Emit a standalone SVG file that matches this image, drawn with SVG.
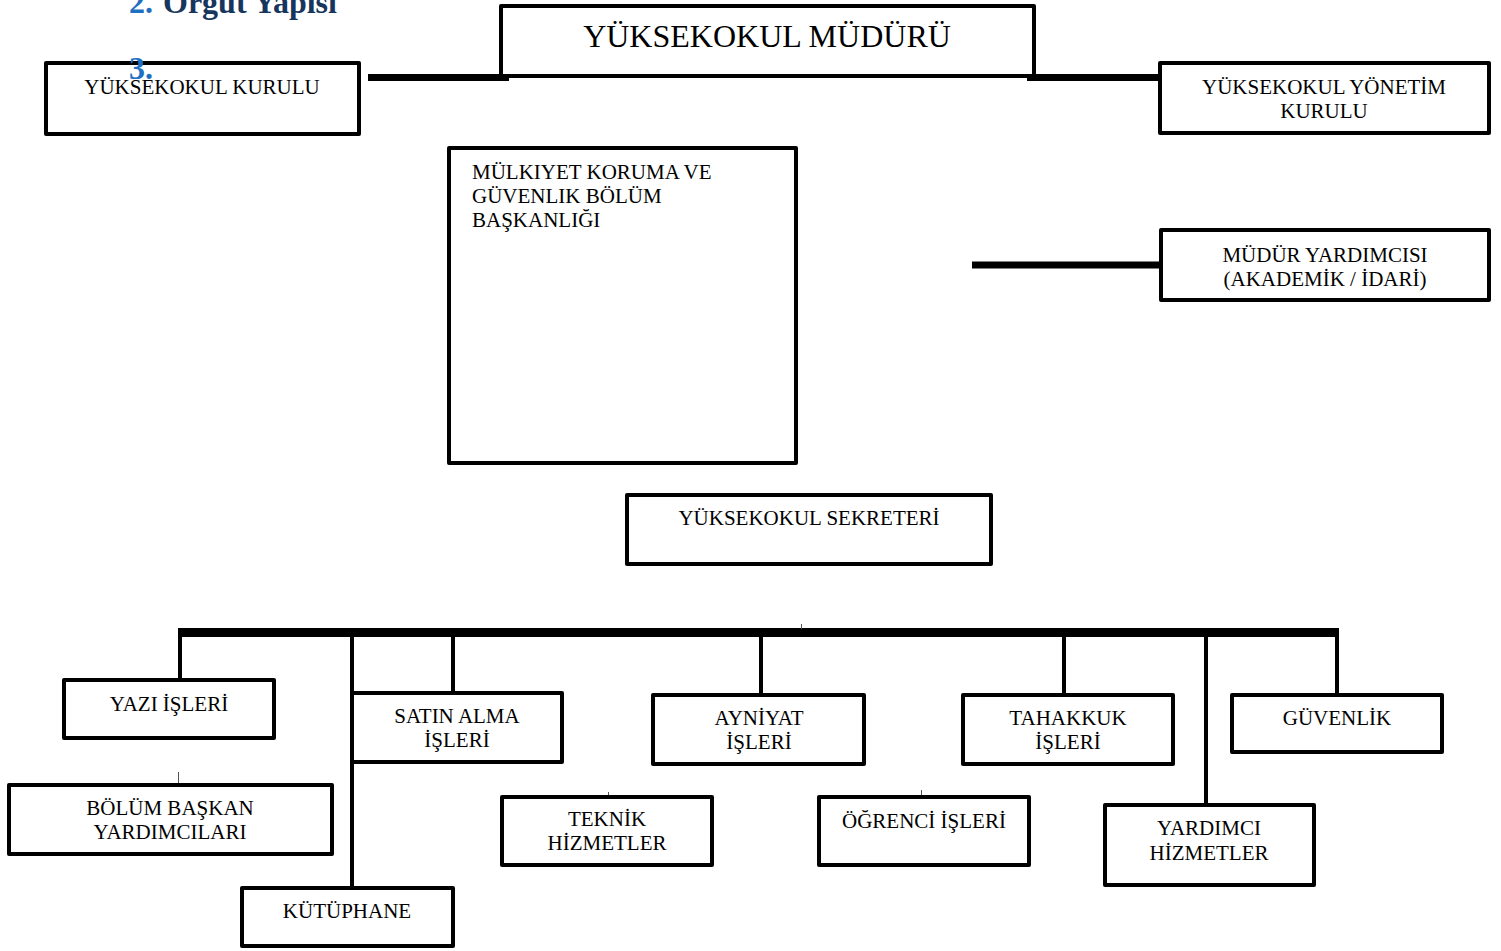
<svg xmlns="http://www.w3.org/2000/svg" width="1501" height="951" viewBox="0 0 1501 951">
<style>
.box{fill:#fff;stroke:#000;stroke-width:4;stroke-linejoin:round}
.t{font-family:"Liberation Serif","Times New Roman",serif;font-size:21px;fill:#000}
.c{text-anchor:middle}
.thick{stroke:#000;stroke-width:7;fill:none}
.v{stroke:#000;stroke-width:4;fill:none}
.tick{stroke:#555;stroke-width:1;fill:none}
.hd{font-family:"Liberation Serif","Times New Roman",serif;font-size:32px;font-weight:bold}
</style>
<rect width="1501" height="951" fill="#fff"/>
<g id="connectors">
<line class="thick" x1="368" y1="77.5" x2="509" y2="77.5"/>
<line class="thick" x1="1027" y1="77.5" x2="1160" y2="77.5"/>
<line class="thick" x1="972" y1="265" x2="1161" y2="265"/>
<rect x="178" y="628" width="1161" height="9" fill="#000"/>
<line class="v" x1="180" y1="633" x2="180" y2="680"/>
<line class="v" x1="352" y1="633" x2="352" y2="888"/>
<line class="v" x1="453" y1="633" x2="453" y2="693"/>
<line class="v" x1="761" y1="633" x2="761" y2="695"/>
<line class="v" x1="1064" y1="633" x2="1064" y2="695"/>
<line class="v" x1="1206" y1="633" x2="1206" y2="805"/>
<line class="v" x1="1337" y1="633" x2="1337" y2="695"/>
<line class="tick" x1="178.5" y1="772" x2="178.5" y2="783"/>
<line class="tick" x1="608.5" y1="792" x2="608.5" y2="799"/>
<line class="tick" x1="921.5" y1="790" x2="921.5" y2="799"/>
<line class="tick" x1="797.5" y1="493" x2="797.5" y2="500"/>
<line class="tick" x1="801.5" y1="624" x2="801.5" y2="629"/>
</g>
<g id="mudur"><rect class="box" x="501" y="6" width="533" height="70"/><text class="t c" x="767" y="47" style="font-size:32px">YÜKSEKOKUL MÜDÜRÜ</text></g>
<g id="kurul"><rect class="box" x="46" y="63" width="313" height="71"/><text class="t c" x="202" y="94">YÜKSEKOKUL KURULU</text></g>
<g id="yonetim"><rect class="box" x="1160" y="63" width="329" height="70"/><text class="t c" x="1324" y="94">YÜKSEKOKUL YÖNETİM</text><text class="t c" x="1324" y="118">KURULU</text></g>
<g id="mulkiyet"><rect class="box" x="449" y="148" width="347" height="315"/><text class="t" x="472" y="179">MÜLKIYET KORUMA VE</text><text class="t" x="472" y="203">GÜVENLIK BÖLÜM</text><text class="t" x="472" y="227">BAŞKANLIĞI</text></g>
<g id="mudur-yrd"><rect class="box" x="1161" y="230" width="328" height="70"/><text class="t c" x="1325" y="262">MÜDÜR YARDIMCISI</text><text class="t c" x="1325" y="286">(AKADEMİK / İDARİ)</text></g>
<g id="sekreter"><rect class="box" x="627" y="495" width="364" height="69"/><text class="t c" x="809" y="525">YÜKSEKOKUL SEKRETERİ</text></g>
<g id="yazi"><rect class="box" x="64" y="680" width="210" height="58"/><text class="t c" x="169" y="711">YAZI İŞLERİ</text></g>
<g id="bolum"><rect class="box" x="9" y="785" width="323" height="69"/><text class="t c" x="170" y="815">BÖLÜM BAŞKAN</text><text class="t c" x="170" y="839">YARDIMCILARI</text></g>
<g id="satin"><rect class="box" x="352" y="693" width="210" height="69"/><text class="t c" x="457" y="723">SATIN ALMA</text><text class="t c" x="457" y="747">İŞLERİ</text></g>
<g id="kutuphane"><rect class="box" x="242" y="888" width="211" height="58"/><text class="t c" x="347" y="918">KÜTÜPHANE</text></g>
<g id="teknik"><rect class="box" x="502" y="797" width="210" height="68"/><text class="t c" x="607" y="826">TEKNİK</text><text class="t c" x="607" y="850">HİZMETLER</text></g>
<g id="ayniyat"><rect class="box" x="653" y="695" width="211" height="69"/><text class="t c" x="759" y="725">AYNİYAT</text><text class="t c" x="759" y="749">İŞLERİ</text></g>
<g id="ogrenci"><rect class="box" x="819" y="797" width="210" height="68"/><text class="t c" x="924" y="828">ÖĞRENCİ İŞLERİ</text></g>
<g id="tahakkuk"><rect class="box" x="963" y="695" width="210" height="69"/><text class="t c" x="1068" y="725">TAHAKKUK</text><text class="t c" x="1068" y="749">İŞLERİ</text></g>
<g id="yardimci"><rect class="box" x="1105" y="805" width="209" height="80"/><text class="t c" x="1209" y="835">YARDIMCI</text><text class="t c" x="1209" y="860">HİZMETLER</text></g>
<g id="guvenlik"><rect class="box" x="1232" y="695" width="210" height="57"/><text class="t c" x="1337" y="725">GÜVENLİK</text></g>
<g id="heading">
<text class="hd" x="129" y="13" fill="#1F70C1">2.</text>
<text class="hd" x="163" y="13" fill="#17365D">Örgüt Yapısı</text>
<text class="hd" x="129" y="79" fill="#1F70C1">3.</text>
</g>
</svg>
